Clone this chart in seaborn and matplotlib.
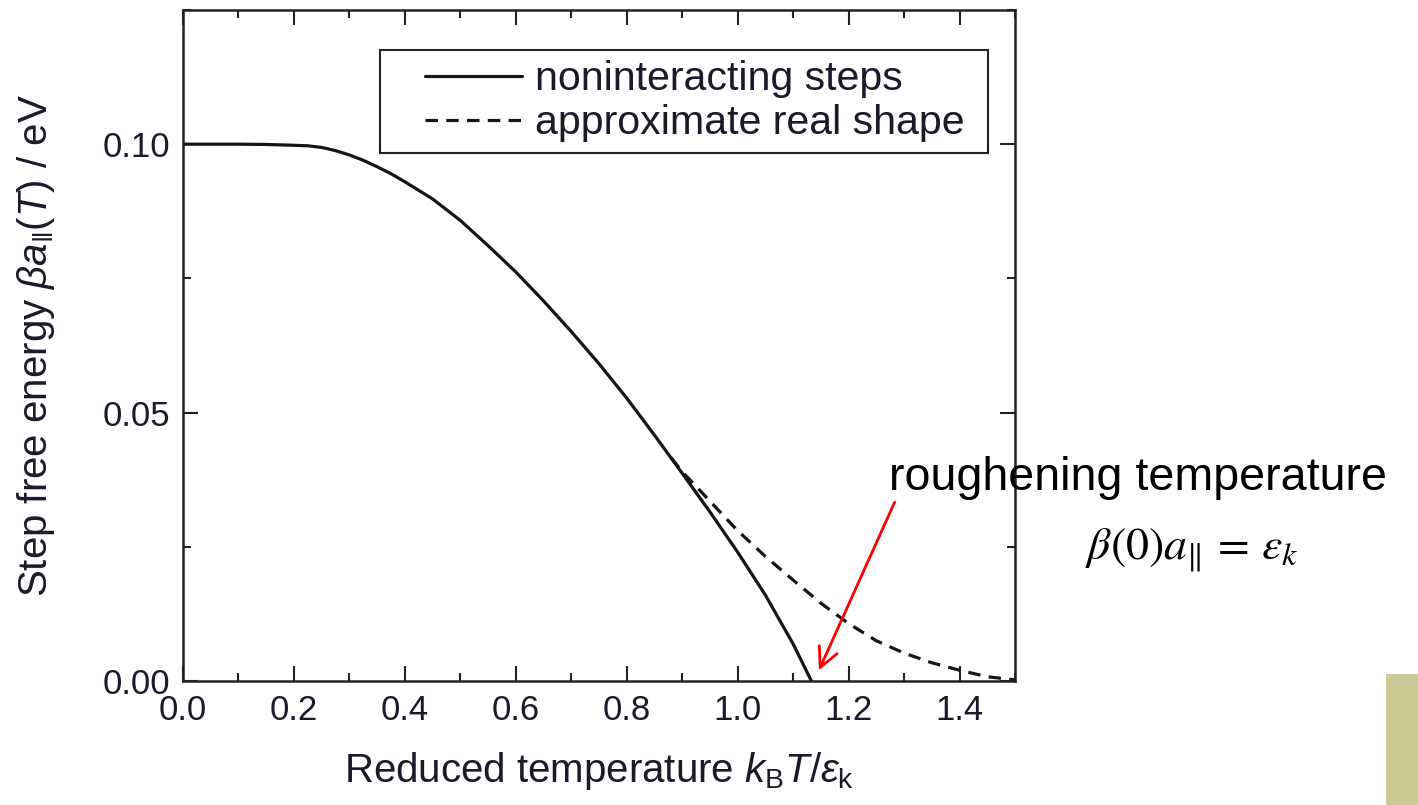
import numpy as np
import pandas as pd
import matplotlib
matplotlib.use("Agg")
import matplotlib.pyplot as plt
import seaborn as sns
from matplotlib.ticker import MultipleLocator, FixedLocator
from matplotlib.lines import Line2D
from matplotlib.legend_handler import HandlerLine2D
from matplotlib.patches import Rectangle

# Step free energy of noninteracting steps (solid curve)
temp_solid = [0.00, 0.10, 0.15, 0.20, 0.225, 0.25, 0.275, 0.30, 0.325, 0.35,
              0.375, 0.40, 0.45, 0.50, 0.55, 0.60, 0.65, 0.70, 0.75, 0.80,
              0.85, 0.90, 0.95, 1.00, 1.05, 1.10, 1.133]
energy_solid = [0.1000, 0.1000, 0.09995, 0.0998, 0.0997, 0.0994, 0.0988,
                0.0980, 0.0970, 0.0958, 0.0945, 0.0930, 0.0898, 0.0858,
                0.0811, 0.0762, 0.0708, 0.0651, 0.0591, 0.0527, 0.0458,
                0.0387, 0.0315, 0.0240, 0.0160, 0.0069, 0.0000]

# Approximate real shape above the branching point (dashed curve)
temp_real = [0.88, 0.90, 0.95, 1.00, 1.05, 1.10, 1.15, 1.20, 1.25, 1.30,
             1.35, 1.40, 1.45, 1.50]
energy_real = [0.0416, 0.0390, 0.0335, 0.0280, 0.0232, 0.0188, 0.0145, 0.0107,
               0.0075, 0.0052, 0.0034, 0.0020, 0.0008, 0.0002]

x_ticks = [0.0, 0.2, 0.4, 0.6, 0.8, 1.0, 1.2, 1.4]
x_tick_labels = ["0.0", "0.2", "0.4", "0.6", "0.8", "1.0", "1.2", "1.4"]
y_ticks = [0.00, 0.05, 0.10]
y_tick_labels = ["0.00", "0.05", "0.10"]

label_solid = "noninteracting steps"
label_real = "approximate real shape"

sns.set_theme(style="ticks")
plt.rcParams["font.family"] = ["Liberation Sans", "DejaVu Sans"]
plt.rcParams["mathtext.fontset"] = "custom"
plt.rcParams["mathtext.rm"] = "Liberation Sans"
plt.rcParams["mathtext.it"] = "Liberation Sans:italic"
plt.rcParams["mathtext.bf"] = "Liberation Sans:bold"

df_solid = pd.DataFrame({"T": temp_solid, "E": energy_solid})
df_real = pd.DataFrame({"T": temp_real, "E": energy_real})

fig = plt.figure(figsize=(14.18, 8.05), dpi=100)
ax = fig.add_axes([183 / 1418, 1 - 681 / 805, (1015 - 183) / 1418, (681 - 10) / 805])

sns.lineplot(data=df_real, x="T", y="E", ax=ax, color="#151515", lw=2.3,
             linestyle=(0, (3.9, 2.6)), label=label_real, sort=False)
sns.lineplot(data=df_solid, x="T", y="E", ax=ax, color="#151515", lw=2.3,
             label=label_solid, sort=False)

ax.set_xlim(0, 1.5)
ax.set_ylim(0, 0.125)
ax.xaxis.set_major_locator(FixedLocator(x_ticks))
ax.set_xticklabels(x_tick_labels)
ax.xaxis.set_minor_locator(MultipleLocator(0.1))
ax.yaxis.set_major_locator(FixedLocator(y_ticks))
ax.set_yticklabels(y_tick_labels)
ax.yaxis.set_minor_locator(MultipleLocator(0.025))

ax.tick_params(which="both", direction="in", top=True, right=True,
               width=1.5, color="#222222", labelsize=25, labelcolor="#1a1a2a")
ax.tick_params(which="major", length=11, pad=9)
ax.tick_params(which="minor", length=5.5)
for sp in ax.spines.values():
    sp.set_linewidth(1.8)
    sp.set_color("#222222")

ax.set_xlabel(r"Reduced temperature $k_{\rm B}T/\varepsilon_{\rm k}$",
              fontsize=29, color="#1a1a2a", labelpad=17)
ax.set_ylabel(r"Step free energy $\beta a_{\|}(T)$ / eV",
              fontsize=29, color="#1a1a2a", labelpad=33)

handles, labels = ax.get_legend_handles_labels()
order = [labels.index(label_solid), labels.index(label_real)]
leg_x0 = (380 - 183) / 832
leg_w = (988 - 380) / 832
leg_top = (681 - 50) / 671
leg = ax.legend([handles[i] for i in order], [labels[i] for i in order],
                loc="upper left", bbox_to_anchor=(leg_x0, leg_top - 0.2, leg_w, 0.2),
                mode="expand", borderaxespad=0, fontsize=29.6, frameon=True,
                fancybox=False, edgecolor="#222222", framealpha=1,
                borderpad=0.25, handlelength=3.2, handletextpad=0.32,
                labelspacing=0.15,
                handler_map={Line2D: HandlerLine2D(xpad=0.85)})
leg.get_frame().set_linewidth(1.5)
for t in leg.get_texts():
    t.set_color("#1a1a2a")

# Roughening temperature annotation
ax.annotate("", xy=(1.1465, 0.0020), xytext=(1.283, 0.0333),
            arrowprops=dict(arrowstyle="->,head_length=0.7,head_width=0.35",
                            color="red", lw=2, shrinkA=0, shrinkB=0,
                            mutation_scale=20))
fig.text(889 / 1418, 1 - 490 / 805, "roughening temperature", fontsize=33.6,
         color="black", ha="left", va="baseline")
fig.text(1192 / 1418, 1 - 560 / 805, r"$\beta(0)a_{\|}\,=\,\varepsilon_k$",
         fontsize=33, color="black", ha="center", va="baseline",
         math_fontfamily="stix")

# Olive tab at the lower right corner
fig.add_artist(Rectangle((1386 / 1418, 0), 32 / 1418, (805 - 674) / 805,
                         transform=fig.transFigure, color="#cbc995", lw=0))

fig.savefig("out.png", dpi=100)
